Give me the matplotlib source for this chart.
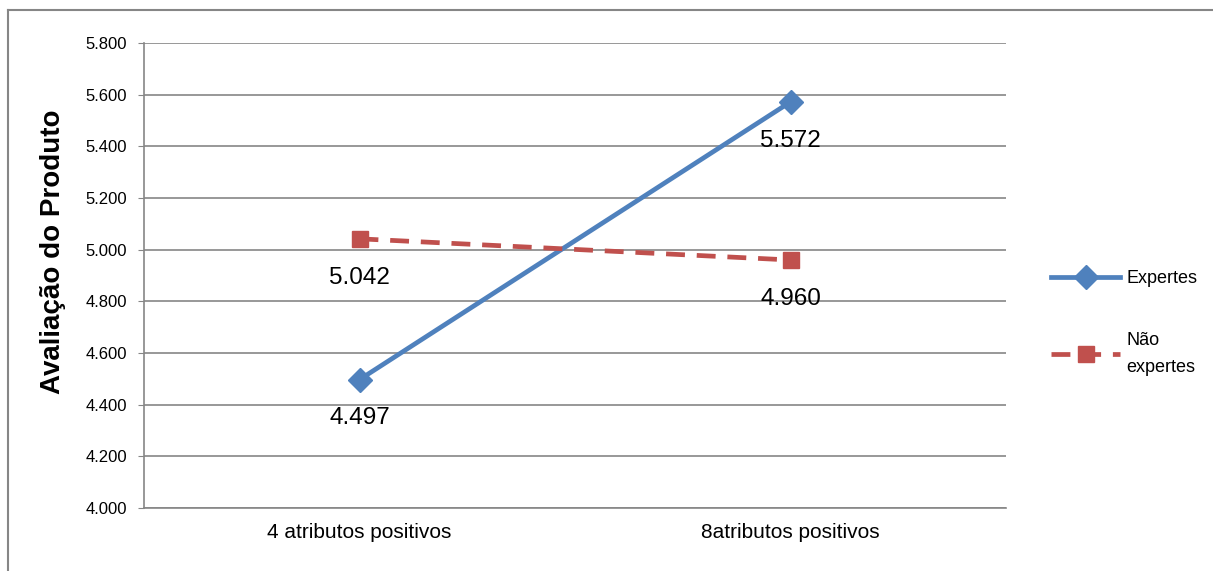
import matplotlib.pyplot as plt
from matplotlib.lines import Line2D

plt.rcParams['font.family'] = ['Liberation Sans', 'DejaVu Sans']

# --- Data ---
categorias = ['4 atributos positivos', '8atributos positivos']
expertes = [4.497, 5.572]
nao_expertes = [5.042, 4.960]
y_ticks = [4.0, 4.2, 4.4, 4.6, 4.8, 5.0, 5.2, 5.4, 5.6, 5.8]

azul = '#4F81BD'
vermelho = '#C0504D'
cinza = '#868686'

fig = plt.figure(figsize=(12.13, 5.71), dpi=100)
ax = fig.add_axes([144 / 1213, 63 / 571, 862 / 1213, 465 / 571])

x = [0, 1]
ax.plot(x, expertes, color=azul, lw=3.4, marker='D', ms=12, zorder=3,
        label='Expertes')
ax.plot(x, nao_expertes, color=vermelho, lw=3.4, ls=(0, (4, 2.5)),
        marker='s', ms=12, zorder=3, label='Não\nexpertes')

# data labels below points
for serie in (expertes, nao_expertes):
    for xi, v in zip(x, serie):
        ax.annotate(f'{v:.3f}', (xi, v), xytext=(0, -28), textcoords='offset points',
                    ha='center', va='center', fontsize=17.5)

ax.set_xlim(-0.5, 1.5)
ax.set_ylim(4.0, 5.8)
ax.set_yticks(y_ticks)
ax.set_yticklabels([f'{t:.3f}' for t in y_ticks], fontsize=12)
ax.set_xticks(x)
ax.set_xticklabels(categorias, fontsize=15)
ax.tick_params(axis='x', length=0, pad=11)
ax.tick_params(axis='y', length=4, color=cinza, pad=8)
ax.grid(axis='y', color=cinza, lw=1.2)
ax.set_axisbelow(True)
for s in ['top', 'right']:
    ax.spines[s].set_visible(False)
for s in ['left', 'bottom']:
    ax.spines[s].set_color(cinza)
    ax.spines[s].set_linewidth(1.2)

ax.set_ylabel('Avaliação do Produto', fontsize=20, fontweight='bold')
ax.yaxis.set_label_coords(-0.090, 0.55)

leg = fig.legend(loc='center left', bbox_to_anchor=(1035 / 1213, 1 - 323 / 571),
                 frameon=False, fontsize=13, handlelength=3.8, labelspacing=2.5,
                 handletextpad=0.35)
leg.get_texts()[1].set_linespacing(1.75)

# chart border (top and left only visible)
fig.add_artist(Line2D([8 / 1213, 1.0], [1 - 10 / 571, 1 - 10 / 571], color=cinza, lw=1.5))
fig.add_artist(Line2D([8 / 1213, 8 / 1213], [0, 1 - 10 / 571], color=cinza, lw=1.5))

fig.savefig('out.png', dpi=100)
